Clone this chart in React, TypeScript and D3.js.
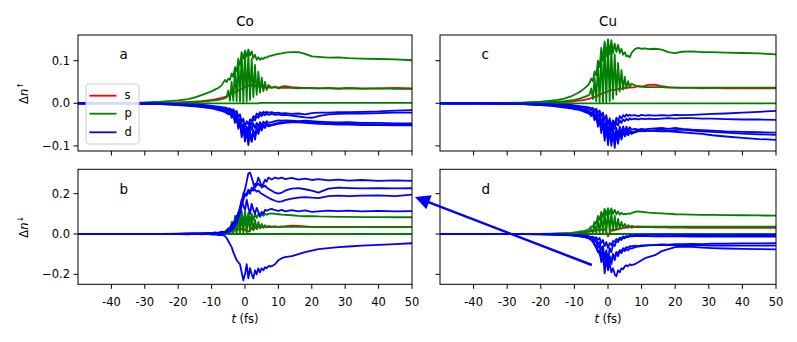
import React from "react";
import * as d3 from "d3";

// time grid (fs), shared by all panels
const T = [
  -50, -40, -30, -25, -20, -17, -15, -13, -11, -10,
  -9, -8, -7, -6,
  -5.5, -5, -4.5, -4, -3.5, -3, -2.5, -2, -1.5, -1, -0.5, 0, 0.5,
  1, 1.5, 2, 2.5, 3, 3.5, 4, 4.5, 5, 5.5, 6, 6.5, 7,
  8, 9, 10, 11, 12,
  14, 16, 18, 20, 22, 25, 28, 31, 35, 40, 45, 50,
];

// ---- Co, spin up (a)
const coUpS = [
  0, 0, 0, 0.001, 0.002, 0.003, 0.004, 0.005, 0.007, 0.008,
  0.009, 0.011, 0.013, 0.015,
  0.016, 0.018, 0.02, 0.022, 0.024, 0.026, 0.028, 0.03, 0.033, 0.034, 0.036, 0.038, 0.04,
  0.042, 0.04, 0.043, 0.04, 0.041, 0.038, 0.04, 0.038, 0.039, 0.037, 0.038, 0.037, 0.037,
  0.037, 0.038, 0.037, 0.039, 0.04,
  0.038, 0.037, 0.036, 0.036, 0.035, 0.036, 0.035, 0.036, 0.035, 0.035, 0.036, 0.035,
];
const coUpP1 = [
  0, 0, 0.002, 0.004, 0.007, 0.01, 0.014, 0.019, 0.025, 0.028,
  0.032, 0.036, 0.042, 0.055,
  0.05, 0.058, 0.055, 0.07, 0.062, 0.085, 0.075, 0.1, 0.09, 0.118, 0.105, 0.124, 0.11,
  0.126, 0.112, 0.122, 0.106, 0.114, 0.102, 0.108, 0.102, 0.106, 0.104, 0.108, 0.107, 0.11,
  0.112, 0.114, 0.116, 0.117, 0.119,
  0.12, 0.12, 0.116, 0.11, 0.109, 0.107, 0.108, 0.106, 0.105, 0.104, 0.103, 0.101,
];
const coUpP2 = [
  0, 0, 0, 0, 0.001, 0.002, 0.003, 0.004, 0.005, 0.006,
  0.007, 0.008, 0.01, 0.012,
  0.014, 0.03, 0.006, 0.05, 0.006, 0.08, 0.005, 0.105, 0.004, 0.12, 0.003, 0.122, 0.004,
  0.118, 0.008, 0.105, 0.014, 0.09, 0.02, 0.074, 0.025, 0.06, 0.028, 0.05, 0.031, 0.043,
  0.036, 0.039, 0.035, 0.037, 0.036,
  0.036, 0.035, 0.036, 0.035, 0.035, 0.035, 0.034, 0.035, 0.034, 0.035, 0.034, 0.034,
];
const coUpP3 = [
  0, 0, 0, 0, 0, 0, 0, 0, 0, 0,
  0, 0, 0, 0,
  0, 0, 0, 0, 0, 0, 0, 0, 0, 0, 0, 0, 0,
  0, 0, 0, 0, 0, 0, 0, 0.001, 0.001, 0.001, 0.001, 0.001, 0.001,
  0.001, 0.001, 0.001, 0.001, 0.001,
  0.001, 0.001, 0.001, 0.001, 0.001, 0.001, 0.001, 0.001, 0.001, 0.001, 0.001, 0.001,
];
const coUpD1 = [
  0, 0, 0, -0.001, -0.002, -0.003, -0.003, -0.004, -0.005, -0.006,
  -0.007, -0.008, -0.009, -0.01,
  -0.011, -0.013, -0.012, -0.016, -0.014, -0.022, -0.018, -0.032, -0.026, -0.045, -0.036, -0.055, -0.042,
  -0.05, -0.038, -0.042, -0.03, -0.034, -0.024, -0.028, -0.021, -0.025, -0.02, -0.023, -0.02, -0.022,
  -0.021, -0.023, -0.022, -0.024, -0.023,
  -0.025, -0.024, -0.026, -0.023, -0.022, -0.022, -0.021, -0.021, -0.02, -0.019, -0.017, -0.016,
];
const coUpD2 = [
  0, 0, 0, -0.001, -0.002, -0.003, -0.004, -0.005, -0.006, -0.007,
  -0.008, -0.009, -0.011, -0.012,
  -0.013, -0.015, -0.014, -0.02, -0.017, -0.03, -0.024, -0.045, -0.035, -0.062, -0.048, -0.07, -0.055,
  -0.062, -0.045, -0.05, -0.036, -0.04, -0.03, -0.034, -0.027, -0.03, -0.025, -0.028, -0.024, -0.027,
  -0.025, -0.027, -0.026, -0.028, -0.027,
  -0.029, -0.031, -0.033, -0.034, -0.03, -0.026, -0.025, -0.024, -0.024, -0.023, -0.022, -0.022,
];
const coUpD3 = [
  0, 0, -0.001, -0.001, -0.003, -0.004, -0.005, -0.006, -0.008, -0.009,
  -0.01, -0.011, -0.013, -0.015,
  -0.016, -0.018, -0.017, -0.024, -0.02, -0.034, -0.028, -0.05, -0.04, -0.07, -0.055, -0.078, -0.06,
  -0.07, -0.05, -0.062, -0.048, -0.058, -0.046, -0.055, -0.044, -0.052, -0.043, -0.048, -0.042, -0.046,
  -0.044, -0.042, -0.04, -0.041, -0.04,
  -0.041, -0.042, -0.041, -0.042, -0.043, -0.044, -0.045, -0.044, -0.046, -0.046, -0.047, -0.047,
];
const coUpD4 = [
  0, 0, -0.001, -0.002, -0.003, -0.005, -0.006, -0.008, -0.01, -0.011,
  -0.012, -0.014, -0.016, -0.018,
  -0.02, -0.022, -0.02, -0.03, -0.024, -0.042, -0.032, -0.06, -0.045, -0.08, -0.06, -0.09, -0.065,
  -0.098, -0.07, -0.09, -0.062, -0.08, -0.055, -0.07, -0.05, -0.062, -0.05, -0.055, -0.048, -0.052,
  -0.05, -0.048, -0.046, -0.045, -0.044,
  -0.043, -0.043, -0.044, -0.045, -0.046, -0.047, -0.048, -0.048, -0.049, -0.05, -0.05, -0.05,
];
const coUpD5 = [
  0, 0, -0.001, -0.002, -0.004, -0.006, -0.007, -0.009, -0.011, -0.012,
  -0.014, -0.016, -0.018, -0.021,
  -0.023, -0.026, -0.024, -0.034, -0.028, -0.046, -0.036, -0.055, -0.042, -0.066, -0.05, -0.075, -0.058,
  -0.085, -0.062, -0.09, -0.065, -0.085, -0.058, -0.072, -0.054, -0.064, -0.052, -0.058, -0.05, -0.054,
  -0.052, -0.05, -0.048, -0.047, -0.046,
  -0.045, -0.045, -0.046, -0.047, -0.048, -0.049, -0.05, -0.05, -0.051, -0.051, -0.052, -0.052,
];

// ---- Cu, spin up (c)
const cuUpS = [
  0, 0, 0, 0, 0.001, 0.001, 0.002, 0.003, 0.004, 0.005,
  0.006, 0.007, 0.008, 0.01,
  0.011, 0.012, 0.013, 0.015, 0.016, 0.018, 0.02, 0.022, 0.024, 0.025, 0.027, 0.028, 0.03,
  0.031, 0.032, 0.031, 0.034, 0.033, 0.036, 0.034, 0.037, 0.035, 0.038, 0.036, 0.038, 0.037,
  0.038, 0.04, 0.039, 0.041, 0.043,
  0.044, 0.04, 0.038, 0.037, 0.036, 0.036, 0.035, 0.036, 0.035, 0.035, 0.035, 0.035,
];
const cuUpP1 = [
  0, 0, 0.001, 0.002, 0.004, 0.006, 0.008, 0.011, 0.016, 0.02,
  0.024, 0.029, 0.035, 0.042,
  0.048, 0.058, 0.052, 0.075, 0.065, 0.1, 0.085, 0.13, 0.1, 0.145, 0.11, 0.15, 0.115,
  0.148, 0.118, 0.14, 0.12, 0.137, 0.118, 0.128, 0.114, 0.12, 0.11, 0.112, 0.108, 0.118,
  0.127, 0.13, 0.128, 0.129, 0.127,
  0.128, 0.126, 0.12, 0.118, 0.121, 0.122, 0.12, 0.12, 0.119, 0.118, 0.117, 0.115,
];
const cuUpP2 = [
  0, 0, 0, 0.001, 0.002, 0.003, 0.004, 0.005, 0.007, 0.008,
  0.01, 0.012, 0.015, 0.018,
  0.02, 0.035, 0.01, 0.06, 0.005, 0.09, 0.003, 0.12, 0.002, 0.14, 0.003, 0.14, 0.005,
  0.13, 0.01, 0.115, 0.02, 0.095, 0.028, 0.078, 0.032, 0.062, 0.035, 0.052, 0.038, 0.046,
  0.042, 0.04, 0.039, 0.038, 0.038,
  0.038, 0.038, 0.037, 0.037, 0.037, 0.037, 0.037, 0.037, 0.037, 0.037, 0.037, 0.037,
];
const cuUpP3 = [
  0, 0, 0, 0, 0, 0, 0, 0, 0, 0,
  0, 0, 0, 0,
  0, 0, 0, 0, 0, 0, 0, 0, 0, 0, 0, 0, 0,
  0, 0, 0, 0, 0, 0, 0, 0, 0, 0, 0, 0, 0,
  0, 0, 0, 0, 0,
  0, 0, 0, 0, 0, 0, 0, 0, 0, 0, 0, 0,
];
const cuUpD1 = [
  0, 0, 0, -0.001, -0.001, -0.002, -0.003, -0.003, -0.004, -0.005,
  -0.006, -0.007, -0.008, -0.009,
  -0.01, -0.012, -0.011, -0.016, -0.013, -0.022, -0.017, -0.03, -0.022, -0.04, -0.028, -0.05, -0.035,
  -0.055, -0.04, -0.05, -0.034, -0.042, -0.03, -0.036, -0.028, -0.032, -0.026, -0.03, -0.027, -0.029,
  -0.028, -0.03, -0.027, -0.029, -0.028,
  -0.029, -0.028, -0.029, -0.027, -0.028, -0.027, -0.026, -0.025, -0.024, -0.022, -0.02, -0.018,
];
const cuUpD2 = [
  0, 0, -0.001, -0.001, -0.002, -0.003, -0.004, -0.005, -0.006, -0.007,
  -0.008, -0.009, -0.011, -0.013,
  -0.014, -0.016, -0.015, -0.022, -0.018, -0.032, -0.024, -0.045, -0.032, -0.06, -0.04, -0.07, -0.045,
  -0.065, -0.048, -0.06, -0.044, -0.052, -0.04, -0.046, -0.038, -0.042, -0.036, -0.04, -0.035, -0.038,
  -0.036, -0.038, -0.036, -0.037, -0.036,
  -0.037, -0.036, -0.035, -0.036, -0.035, -0.035, -0.036, -0.036, -0.037, -0.038, -0.038, -0.039,
];
const cuUpD3 = [
  0, 0, -0.001, -0.002, -0.003, -0.004, -0.006, -0.007, -0.009, -0.01,
  -0.011, -0.013, -0.015, -0.017,
  -0.019, -0.022, -0.02, -0.03, -0.024, -0.045, -0.032, -0.06, -0.04, -0.078, -0.05, -0.088, -0.058,
  -0.09, -0.06, -0.085, -0.058, -0.078, -0.055, -0.07, -0.054, -0.066, -0.055, -0.064, -0.056, -0.062,
  -0.06, -0.062, -0.06, -0.061, -0.06,
  -0.059, -0.058, -0.06, -0.058, -0.06, -0.062, -0.063, -0.064, -0.066, -0.067, -0.068, -0.069,
];
const cuUpD4 = [
  0, 0, -0.001, -0.002, -0.004, -0.005, -0.007, -0.008, -0.01, -0.012,
  -0.013, -0.015, -0.017, -0.02,
  -0.022, -0.026, -0.023, -0.036, -0.028, -0.055, -0.036, -0.07, -0.045, -0.088, -0.055, -0.098, -0.062,
  -0.1, -0.065, -0.105, -0.068, -0.095, -0.064, -0.085, -0.062, -0.076, -0.063, -0.072, -0.064, -0.068,
  -0.066, -0.064, -0.066, -0.064, -0.065,
  -0.063, -0.062, -0.064, -0.063, -0.062, -0.064, -0.066, -0.067, -0.069, -0.071, -0.073, -0.074,
];
const cuUpD5 = [
  0, 0, -0.001, -0.002, -0.004, -0.006, -0.008, -0.01, -0.012, -0.014,
  -0.015, -0.017, -0.02, -0.023,
  -0.025, -0.03, -0.026, -0.04, -0.03, -0.05, -0.036, -0.062, -0.042, -0.075, -0.05, -0.085, -0.056,
  -0.09, -0.06, -0.092, -0.064, -0.088, -0.066, -0.082, -0.068, -0.078, -0.07, -0.075, -0.068, -0.072,
  -0.068, -0.066, -0.065, -0.066, -0.064,
  -0.065, -0.066, -0.066, -0.067, -0.068, -0.07, -0.072, -0.075, -0.078, -0.081, -0.084, -0.086,
];

// ---- Co, spin down (b)
const coDnS = [
  0, 0, 0, 0, 0, 0, 0, 0.001, 0.001, 0.002,
  0.002, 0.003, 0.004, 0.005,
  0.006, 0.008, 0.01, 0.012, 0.015, 0.018, 0.02, 0.024, 0.02, 0.026, 0.018, 0.022, 0.014,
  0.012, 0.02, 0.03, 0.02, 0.035, 0.025, 0.038, 0.03, 0.036, 0.032, 0.036, 0.033, 0.035,
  0.034, 0.036, 0.035, 0.037, 0.038,
  0.042, 0.04, 0.038, 0.035, 0.034, 0.035, 0.034, 0.035, 0.035, 0.034, 0.035, 0.035,
];
const coDnP1 = [
  0, 0, 0, 0, 0, 0.001, 0.001, 0.002, 0.003, 0.004,
  0.005, 0.007, 0.009, 0.012,
  0.015, 0.03, 0.01, 0.06, 0.015, 0.09, 0.02, 0.11, 0.03, 0.116, 0.04, 0.112, 0.05,
  0.105, 0.06, 0.1, 0.07, 0.098, 0.08, 0.1, 0.085, 0.098, 0.09, 0.1, 0.095, 0.1,
  0.102, 0.1, 0.098, 0.096, 0.095,
  0.093, 0.09, 0.088, 0.089, 0.087, 0.086, 0.085, 0.085, 0.084, 0.084, 0.083, 0.083,
];
const coDnP2 = [
  0, 0, 0, 0, 0, 0, 0, 0.001, 0.001, 0.002,
  0.002, 0.003, 0.004, 0.005,
  0.006, 0.01, 0.004, 0.03, 0.003, 0.06, 0.002, 0.085, 0.003, 0.1, 0.004, 0.098, 0.008,
  0.09, 0.012, 0.08, 0.018, 0.07, 0.024, 0.06, 0.028, 0.05, 0.031, 0.044, 0.033, 0.04,
  0.036, 0.038, 0.035, 0.037, 0.036,
  0.036, 0.035, 0.035, 0.035, 0.034, 0.035, 0.035, 0.034, 0.035, 0.035, 0.034, 0.035,
];
const coDnP3 = [
  0, 0, 0, 0, 0, 0, 0, 0, 0, 0,
  0, 0, 0, 0,
  0, 0, 0, 0, 0, 0, 0, 0, 0, 0, 0, 0, 0,
  0, 0, 0, 0, 0, 0, 0, 0, 0, 0, 0, 0, 0,
  0, 0, 0, 0, 0,
  0, 0, 0, 0, 0, 0, 0, 0, 0, 0, 0, 0,
];
const coDnD1 = [
  0, 0, 0, 0.001, 0.002, 0.003, 0.004, 0.002, 0.006, 0.003,
  0.008, 0.004, 0.012, 0.008,
  0.02, 0.015, 0.03, 0.04, 0.06, 0.05, 0.09, 0.1, 0.13, 0.16, 0.2, 0.22, 0.26,
  0.3, 0.305, 0.28, 0.25, 0.23, 0.25, 0.28, 0.26, 0.23, 0.25, 0.27, 0.26, 0.28,
  0.27, 0.28, 0.275, 0.28, 0.272,
  0.278, 0.27, 0.275, 0.268, 0.272, 0.266, 0.27, 0.265, 0.268, 0.264, 0.266, 0.264,
];
const coDnD2 = [
  0, 0, 0, 0.001, 0.001, 0.002, 0.001, 0.003, 0.002, 0.004,
  0.003, 0.006, 0.005, 0.01,
  0.012, 0.02, 0.018, 0.035, 0.03, 0.06, 0.07, 0.1, 0.12, 0.16, 0.18, 0.2, 0.19,
  0.21, 0.2, 0.23, 0.22, 0.25, 0.24, 0.25, 0.24, 0.245, 0.235, 0.24, 0.23, 0.225,
  0.215, 0.205, 0.2, 0.205, 0.215,
  0.225, 0.228, 0.222, 0.215, 0.205, 0.225, 0.23, 0.228, 0.226, 0.227, 0.226, 0.227,
];
const coDnD3 = [
  0, 0, 0, 0, 0.001, 0.001, 0.002, 0.001, 0.003, 0.002,
  0.004, 0.003, 0.006, 0.005,
  0.008, 0.01, 0.015, 0.02, 0.03, 0.04, 0.055, 0.08, 0.1, 0.14, 0.17, 0.19, 0.2,
  0.22, 0.21, 0.22, 0.215, 0.22, 0.21, 0.215, 0.205, 0.2, 0.195, 0.19, 0.185, 0.18,
  0.172, 0.165, 0.16, 0.162, 0.168,
  0.175, 0.18, 0.183, 0.18, 0.178, 0.188, 0.19, 0.188, 0.19, 0.192, 0.188, 0.195,
];
const coDnD4 = [
  0, 0, 0, 0.001, 0, 0.002, 0.001, 0.003, 0.002, 0.004,
  0.006, 0.005, 0.01, 0.008,
  0.015, 0.02, 0.03, 0.045, 0.04, 0.06, 0.08, 0.1, 0.13, 0.17, 0.14, 0.12, 0.17,
  0.13, 0.1, 0.15, 0.12, 0.1, 0.13, 0.11, 0.09, 0.11, 0.1, 0.12, 0.115, 0.12,
  0.125, 0.118, 0.115, 0.12, 0.112,
  0.118, 0.112, 0.117, 0.11, 0.112, 0.116, 0.113, 0.116, 0.112, 0.115, 0.112, 0.113,
];
const coDnD5 = [
  0, 0, 0, -0.001, 0, -0.002, 0.001, -0.002, 0.001, -0.003,
  -0.002, -0.005, -0.004, -0.01,
  -0.02, -0.035, -0.05, -0.065, -0.09, -0.11, -0.13, -0.14, -0.15, -0.19, -0.23, -0.2, -0.15,
  -0.22, -0.17, -0.2, -0.22, -0.18, -0.2, -0.17, -0.19, -0.17, -0.18, -0.165, -0.17, -0.16,
  -0.16, -0.15, -0.13, -0.12, -0.115,
  -0.11, -0.1, -0.09, -0.082, -0.075, -0.07, -0.065, -0.062, -0.058, -0.054, -0.05, -0.046,
];

// ---- Cu, spin down (d)
const cuDnS = [
  0, 0, 0, 0, 0, 0.001, 0.001, 0.002, 0.003, 0.004,
  0.005, 0.006, 0.008, 0.01,
  0.011, 0.013, 0.014, 0.016, 0.018, 0.019, 0.021, 0.022, 0.02, 0.024, 0.01, -0.012, 0.005,
  0.02, 0.024, 0.018, 0.028, 0.022, 0.03, 0.026, 0.033, 0.03, 0.034, 0.031, 0.035, 0.032,
  0.035, 0.033, 0.036, 0.034, 0.035,
  0.033, 0.034, 0.032, 0.033, 0.032, 0.031, 0.032, 0.031, 0.032, 0.031, 0.031, 0.031,
];
const cuDnP1 = [
  0, 0, 0, 0, 0.001, 0.002, 0.003, 0.004, 0.006, 0.008,
  0.01, 0.013, 0.016, 0.02,
  0.028, 0.038, 0.035, 0.06, 0.05, 0.09, 0.07, 0.11, 0.085, 0.125, 0.095, 0.128, 0.1,
  0.127, 0.1, 0.12, 0.098, 0.112, 0.096, 0.105, 0.097, 0.1, 0.098, 0.102, 0.1, 0.104,
  0.11, 0.112, 0.11, 0.108, 0.106,
  0.104, 0.102, 0.1, 0.098, 0.097, 0.096, 0.095, 0.095, 0.094, 0.093, 0.092, 0.091,
];
const cuDnP2 = [
  0, 0, 0, 0, 0.001, 0.001, 0.002, 0.003, 0.004, 0.005,
  0.006, 0.008, 0.01, 0.012,
  0.014, 0.025, 0.008, 0.045, 0.006, 0.07, 0.005, 0.095, 0.005, 0.11, 0.006, 0.115, 0.01,
  0.105, 0.015, 0.09, 0.02, 0.075, 0.026, 0.06, 0.03, 0.05, 0.032, 0.044, 0.034, 0.04,
  0.037, 0.038, 0.036, 0.037, 0.036,
  0.036, 0.037, 0.036, 0.036, 0.037, 0.036, 0.036, 0.036, 0.037, 0.036, 0.036, 0.036,
];
const cuDnP3 = [
  0, 0, 0, 0, 0, 0, 0, 0, 0, 0,
  0, 0, 0, 0,
  0, 0, 0, 0, 0, 0, 0, 0, 0, 0, 0, 0, 0,
  0, 0, 0, 0, 0, 0, 0, 0, 0, 0, 0, 0, 0,
  0, 0, 0, 0, 0,
  0, 0, 0, 0, 0, 0, 0, 0, 0, 0, 0, 0,
];
const cuDnD1 = [
  0, 0, 0, 0, 0, -0.001, -0.001, -0.002, -0.003, -0.004,
  -0.005, -0.006, -0.008, -0.01,
  -0.012, -0.014, -0.013, -0.02, -0.016, -0.03, -0.02, -0.045, -0.03, -0.06, -0.04, -0.07, -0.045,
  -0.055, -0.035, -0.04, -0.025, -0.03, -0.018, -0.022, -0.012, -0.016, -0.01, -0.012, -0.006, -0.008,
  -0.005, -0.006, -0.004, -0.005, -0.004,
  -0.003, -0.004, -0.003, -0.004, -0.005, -0.004, -0.005, -0.005, -0.006, -0.005, -0.005, -0.005,
];
const cuDnD2 = [
  0, 0, 0, 0, -0.001, -0.001, -0.002, -0.003, -0.004, -0.005,
  -0.006, -0.008, -0.01, -0.012,
  -0.015, -0.018, -0.02, -0.03, -0.025, -0.05, -0.04, -0.08, -0.06, -0.12, -0.08, -0.13, -0.07,
  -0.09, -0.05, -0.06, -0.035, -0.04, -0.025, -0.03, -0.018, -0.022, -0.014, -0.016, -0.01, -0.012,
  -0.01, -0.011, -0.009, -0.01, -0.011,
  -0.012, -0.011, -0.012, -0.011, -0.012, -0.013, -0.012, -0.013, -0.012, -0.013, -0.013, -0.013,
];
const cuDnD3 = [
  0, 0, 0, -0.001, -0.001, -0.002, -0.003, -0.004, -0.005, -0.006,
  -0.008, -0.01, -0.012, -0.015,
  -0.018, -0.022, -0.025, -0.04, -0.035, -0.07, -0.055, -0.11, -0.08, -0.15, -0.1, -0.16, -0.11,
  -0.14, -0.1, -0.12, -0.09, -0.1, -0.08, -0.085, -0.07, -0.075, -0.065, -0.068, -0.06, -0.062,
  -0.058, -0.06, -0.056, -0.057, -0.055,
  -0.054, -0.052, -0.053, -0.05, -0.051, -0.049, -0.05, -0.048, -0.048, -0.047, -0.047, -0.046,
];
const cuDnD4 = [
  0, 0, 0, -0.001, -0.002, -0.003, -0.004, -0.005, -0.006, -0.008,
  -0.01, -0.012, -0.015, -0.018,
  -0.022, -0.028, -0.035, -0.05, -0.06, -0.09, -0.08, -0.14, -0.1, -0.195, -0.12, -0.18, -0.12,
  -0.15, -0.1, -0.13, -0.09, -0.11, -0.085, -0.095, -0.078, -0.085, -0.075, -0.08, -0.07, -0.072,
  -0.066, -0.062, -0.06, -0.058, -0.056,
  -0.055, -0.055, -0.054, -0.055, -0.056, -0.055, -0.056, -0.057, -0.057, -0.058, -0.058, -0.058,
];
const cuDnD5 = [
  0, 0, 0, -0.001, -0.002, -0.003, -0.004, -0.006, -0.007, -0.009,
  -0.011, -0.013, -0.016, -0.02,
  -0.025, -0.03, -0.04, -0.055, -0.07, -0.085, -0.1, -0.12, -0.13, -0.15, -0.14, -0.17, -0.15,
  -0.19, -0.17, -0.2, -0.21, -0.18, -0.19, -0.17, -0.175, -0.16, -0.155, -0.16, -0.15, -0.155,
  -0.15, -0.14, -0.13, -0.12, -0.115,
  -0.105, -0.085, -0.075, -0.065, -0.062, -0.064, -0.068, -0.07, -0.072, -0.074, -0.075, -0.076,
];

const xTicks = [-40, -30, -20, -10, 0, 10, 20, 30, 40, 50];
const upTicks = [-0.1, 0.0, 0.1];
const downTicks = [-0.2, 0.0, 0.2];
const elements = ["Co", "Cu"];
const legendLabels = ["s", "p", "d"];

const RED = "#ff0000";
const GREEN = "#008000";
const BLUE = "#0000ff";
const FONT = "'DejaVu Sans', sans-serif";

const group = (s, ps, ds) => [
  { color: RED, values: s },
  ...ps.map((v) => ({ color: GREEN, values: v })),
  ...ds.map((v) => ({ color: BLUE, values: v })),
];

const cols = [
  { x0: 78, x1: 412 },
  { x0: 440, x1: 776 },
];
const rows = [
  { y0: 35, y1: 151, domain: [-0.112, 0.1603], ticks: upTicks, arrow: "↑" },
  { y0: 169.3, y1: 284.3, domain: [-0.2496, 0.321], ticks: downTicks, arrow: "↓" },
];

const panels = [
  { id: "a", row: 0, col: 0, series: group(coUpS, [coUpP1, coUpP2, coUpP3], [coUpD1, coUpD2, coUpD3, coUpD4, coUpD5]) },
  { id: "c", row: 0, col: 1, series: group(cuUpS, [cuUpP1, cuUpP2, cuUpP3], [cuUpD1, cuUpD2, cuUpD3, cuUpD4, cuUpD5]) },
  { id: "b", row: 1, col: 0, series: group(coDnS, [coDnP1, coDnP2, coDnP3], [coDnD1, coDnD2, coDnD3, coDnD4, coDnD5]) },
  { id: "d", row: 1, col: 1, series: group(cuDnS, [cuDnP1, cuDnP2, cuDnP3], [cuDnD1, cuDnD2, cuDnD3, cuDnD4, cuDnD5]) },
];

// arrow annotation, from panel d to panel b (data coordinates)
const arrowFrom = { row: 1, col: 1, t: -4.8, v: -0.154 };
const arrowTo = { row: 1, col: 0, t: 50.9, v: 0.184 };

const scalesFor = (row, col) => {
  const c = cols[col], r = rows[row];
  const x = d3.scaleLinear().domain([-50, 50]).range([c.x0, c.x1]);
  const y = d3.scaleLinear().domain(r.domain).range([r.y1, r.y0]);
  return { x, y };
};

const fmtY = (v) => d3.format(".1f")(v).replace("-", "\u2212");

function Panel({ p }) {
  const c = cols[p.col], r = rows[p.row];
  const { x, y } = scalesFor(p.row, p.col);
  const line = d3.line().x((d) => x(d[0])).y((d) => y(d[1]));
  const clipId = "clip-" + p.id;
  const bottom = p.row === 1;
  const left = p.col === 0;
  return (
    <g>
      <defs>
        <clipPath id={clipId}>
          <rect x={c.x0} y={r.y0} width={c.x1 - c.x0} height={r.y1 - r.y0} />
        </clipPath>
      </defs>
      <g clipPath={`url(#${clipId})`} fill="none" strokeWidth={1.8} strokeLinejoin="round">
        {p.series.map((s, i) => (
          <path key={i} d={line(d3.zip(T, s.values))} stroke={s.color} />
        ))}
      </g>
      <rect x={c.x0} y={r.y0} width={c.x1 - c.x0} height={r.y1 - r.y0} fill="none" stroke="#000" strokeWidth={1} />
      {xTicks.map((t) => (
        <g key={t}>
          <line x1={x(t)} x2={x(t)} y1={r.y1} y2={r.y1 + 4.5} stroke="#000" strokeWidth={1} />
          {bottom && (
            <text x={x(t)} y={305.7} textAnchor="middle" fontSize={11.5}>
              {String(t)}
            </text>
          )}
        </g>
      ))}
      {r.ticks.map((v) => (
        <g key={v}>
          <line x1={c.x0 - 4.5} x2={c.x0} y1={y(v)} y2={y(v)} stroke="#000" strokeWidth={1} />
          {left && (
            <text x={c.x0 - 8} y={y(v)} dy="0.36em" textAnchor="end" fontSize={11.5}>
              {fmtY(v)}
            </text>
          )}
        </g>
      ))}
      <text x={c.x0 + 41.5} y={r.y0 + 24.3} fontSize={13.5}>
        {p.id}
      </text>
      {bottom && (
        <text x={(c.x0 + c.x1) / 2} y={323} textAnchor="middle" fontSize={11.5}>
          <tspan fontStyle="italic">t</tspan> (fs)
        </text>
      )}
      {!bottom && (
        <text x={(c.x0 + c.x1) / 2} y={25.7} textAnchor="middle" fontSize={13.5}>
          {elements[p.col]}
        </text>
      )}
      {left && (
        <text transform={`translate(27.5,${(r.y0 + r.y1) / 2}) rotate(-90)`} textAnchor="middle" fontSize={11.5}>
          Δ<tspan fontStyle="italic">n</tspan>
          <tspan dy={-4.5} fontSize={8}>{r.arrow}</tspan>
        </text>
      )}
    </g>
  );
}

function Legend() {
  const colors = [RED, GREEN, BLUE];
  const ys = [95.7, 113.7, 132.3];
  return (
    <g>
      <rect x={86} y={84} width={53} height={60} rx={2.5} fill="#fff" fillOpacity={0.85} stroke="#cccccc" strokeWidth={1} />
      {legendLabels.map((l, i) => (
        <g key={l}>
          <line x1={89.5} x2={116.5} y1={ys[i]} y2={ys[i]} stroke={colors[i]} strokeWidth={1.8} />
          <text x={124.5} y={ys[i]} dy="0.32em" fontSize={11.5}>
            {l}
          </text>
        </g>
      ))}
    </g>
  );
}

function Arrow() {
  const a = scalesFor(arrowFrom.row, arrowFrom.col);
  const b = scalesFor(arrowTo.row, arrowTo.col);
  const x1 = a.x(arrowFrom.t), y1 = a.y(arrowFrom.v);
  const x2 = b.x(arrowTo.t), y2 = b.y(arrowTo.v);
  const len = Math.hypot(x2 - x1, y2 - y1);
  const ux = (x2 - x1) / len, uy = (y2 - y1) / len;
  const headL = 15, headW = 7.5;
  const bx = x2 - ux * headL, by = y2 - uy * headL;
  const pts = [
    [x2, y2],
    [bx - uy * headW, by + ux * headW],
    [bx + uy * headW, by - ux * headW],
  ];
  return (
    <g>
      <line x1={x1} y1={y1} x2={bx + ux * 2} y2={by + uy * 2} stroke={BLUE} strokeWidth={2.5} />
      <polygon points={pts.map((q) => q.join(",")).join(" ")} fill={BLUE} />
    </g>
  );
}

export default function App() {
  return (
    <div style={{ position: "absolute", left: 0, top: 0 }}>
      <svg width={797} height={342} style={{ display: "block", fontFamily: FONT }} fill="#000">
        <rect width={797} height={342} fill="#fff" />
        {panels.map((p) => (
          <Panel key={p.id} p={p} />
        ))}
        <Legend />
        <Arrow />
      </svg>
    </div>
  );
}
